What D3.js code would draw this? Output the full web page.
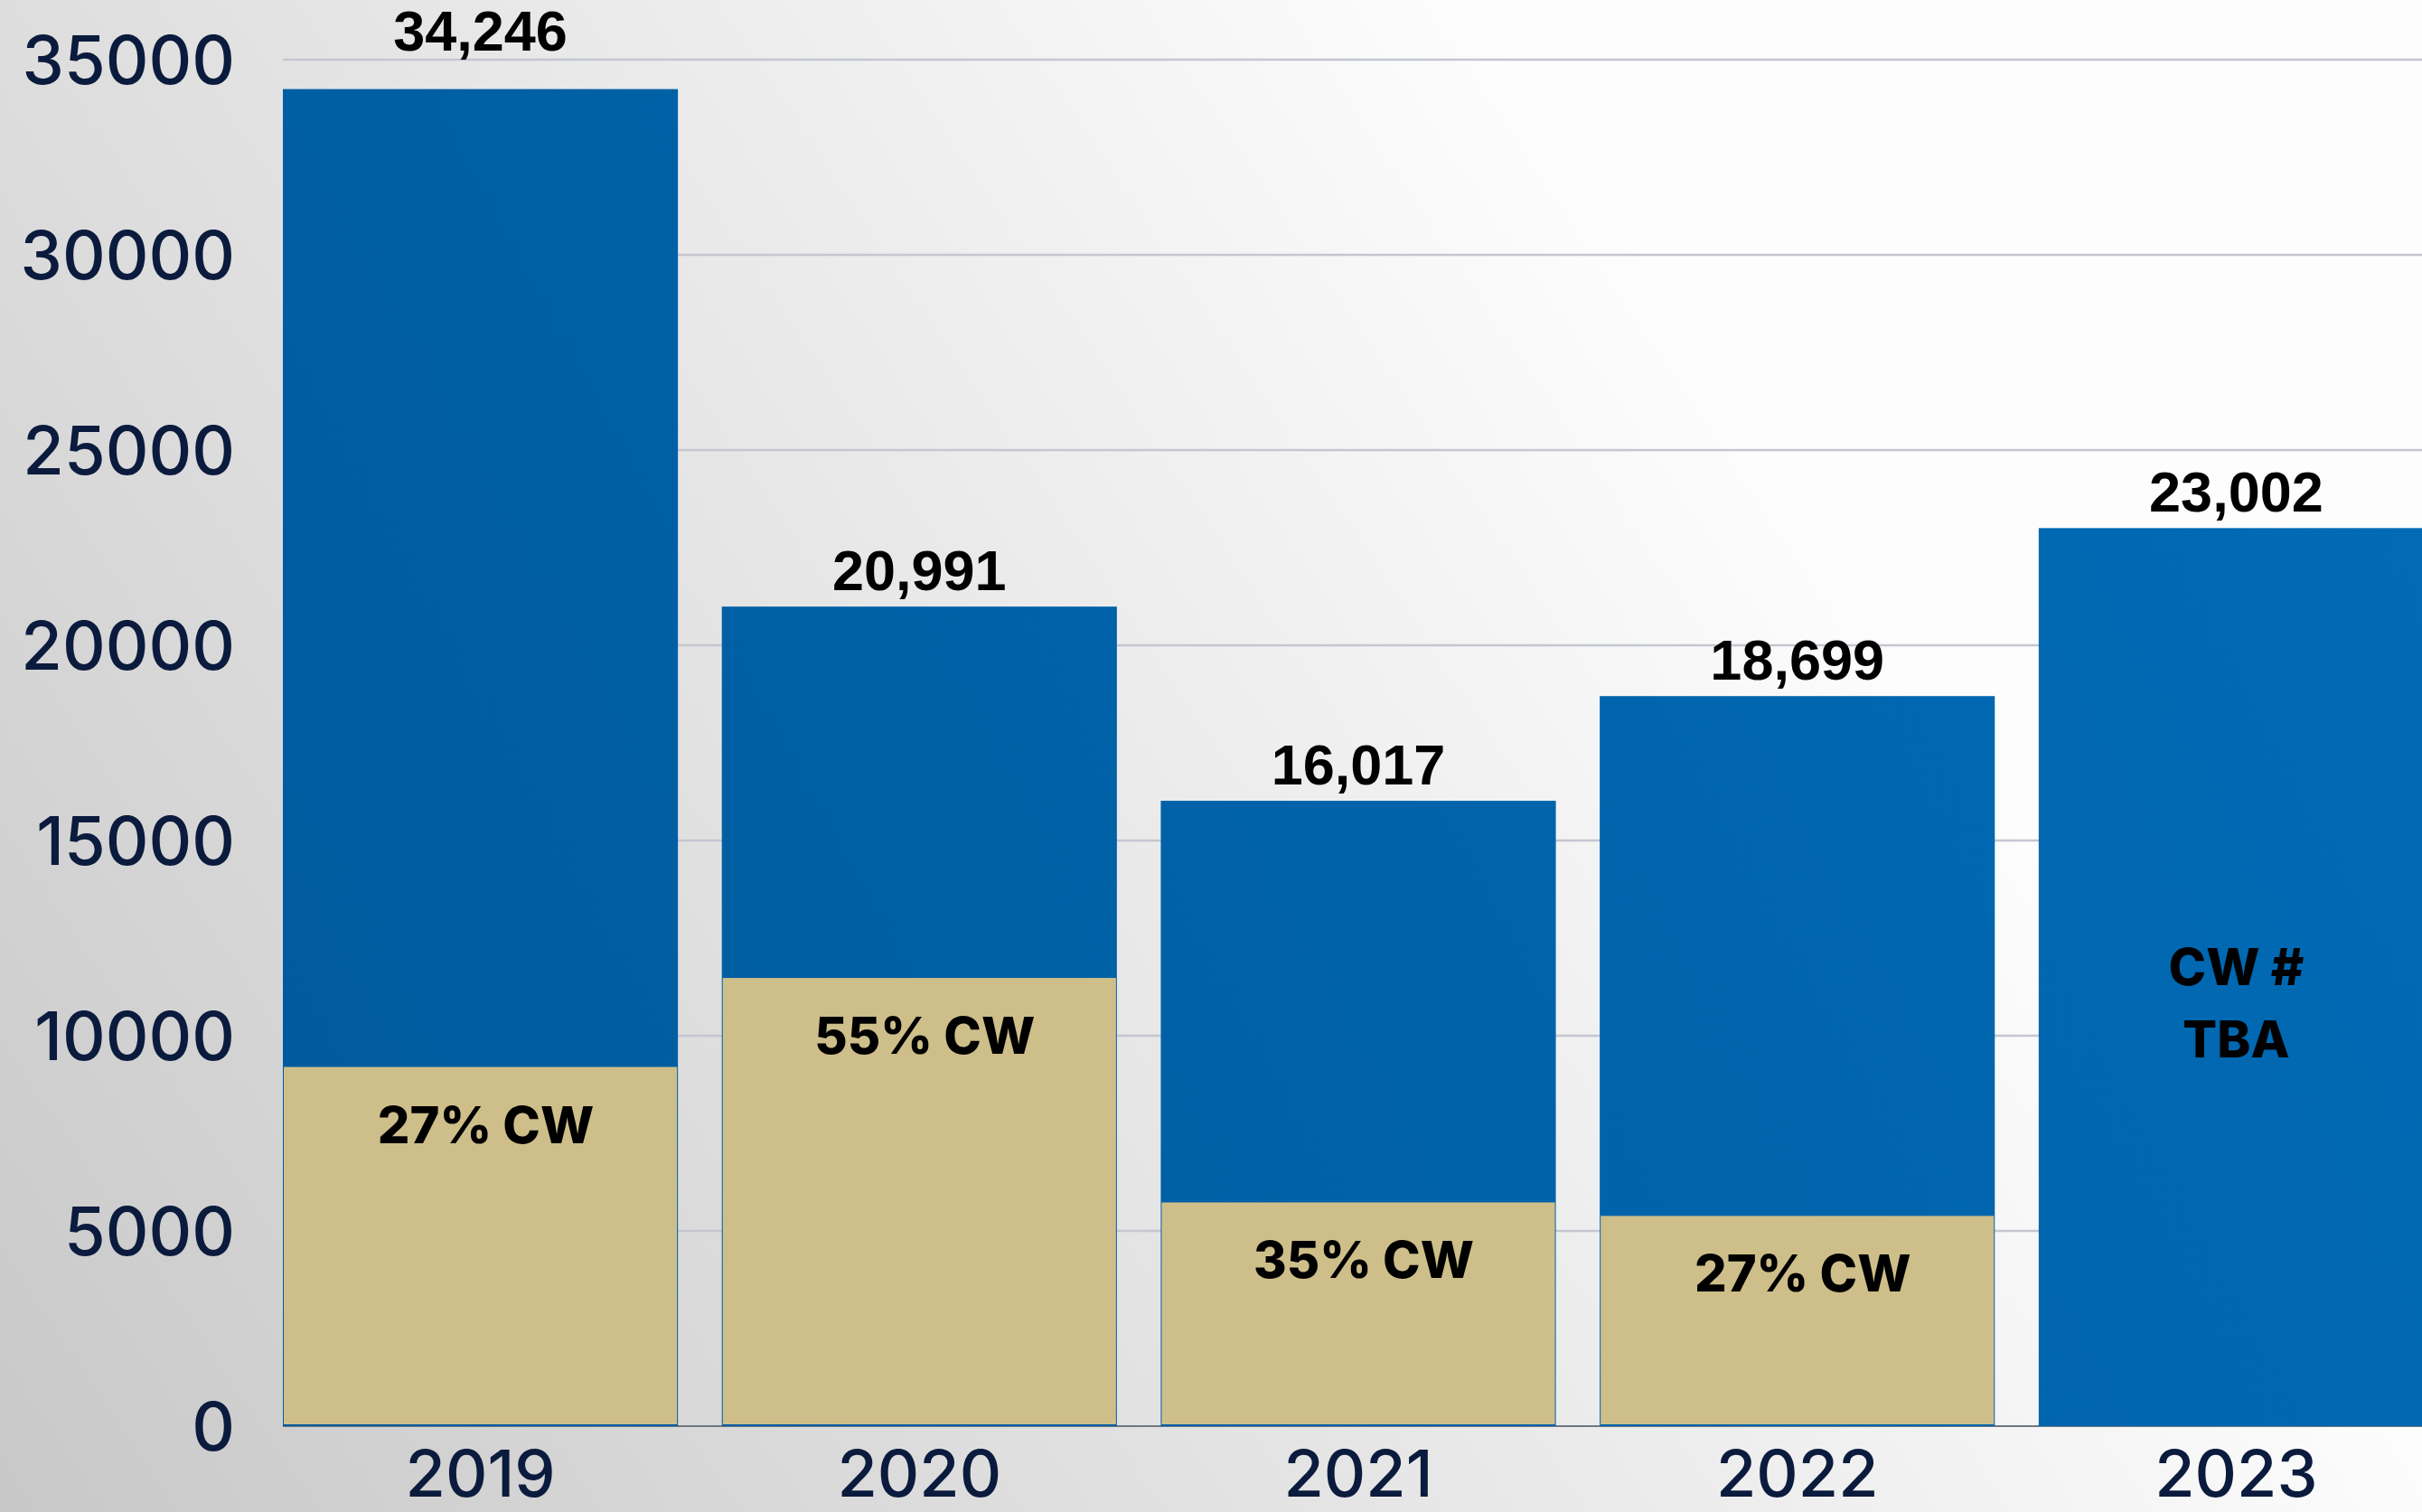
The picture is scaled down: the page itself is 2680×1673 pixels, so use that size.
<!DOCTYPE html>
<html lang="en">
  <head>
    <meta charset="UTF-8" />
    <title>cw-bars</title>
    <style>
      html, body { margin: 0; padding: 0; overflow: hidden; }
      .tick text { font-family: Inter, "Noto Sans", sans-serif; font-weight: 500; fill: #0b1b3d; }
      .val { font-family: "Liberation Sans", Arial, sans-serif; font-weight: 700; fill: #000; }
      .cwlabel { font-family: Inter, "Noto Sans", sans-serif; font-weight: 800; fill: #000; }
    </style>
  </head>
  <body>
    <svg width="2680" height="1673" id="svg"></svg>
    <script src="https://cdnjs.cloudflare.com/ajax/libs/d3/7.8.5/d3.min.js"></script>
    <script>
      // data
      const years = ["2019", "2020", "2021", "2022", "2023"];
      const totals = [34246, 20991, 16017, 18699, 23002];
      const cwValues = [9200, 11480, 5730, 5385, null];
      const cwLabels = ["27% CW", "55% CW", "35% CW", "27% CW", null];
      const tbaLines = ["CW #", "TBA"];
      const yTicks = [0, 5000, 10000, 15000, 20000, 25000, 30000, 35000];

      const svg = d3.select("#svg");
      const width = +svg.attr("width");
      const height = +svg.attr("height");
      const margin = { top: 66, left: 313, right: -13, bottom: 95 };

      // background
      const defs = svg.append("defs");
      const bg = defs.append("linearGradient").attr("id", "bg")
        .attr("gradientUnits", "userSpaceOnUse")
        .attr("x1", 0).attr("y1", height).attr("x2", 1900).attr("y2", 400);
      bg.append("stop").attr("offset", 0).attr("stop-color", "#c8c8c8");
      bg.append("stop").attr("offset", 1).attr("stop-color", "#fdfdfd");
      const blue = defs.append("linearGradient").attr("id", "blue")
        .attr("gradientUnits", "userSpaceOnUse")
        .attr("x1", 300).attr("y1", 1600).attr("x2", 2680).attr("y2", 300);
      blue.append("stop").attr("offset", 0).attr("stop-color", "#00599c");
      blue.append("stop").attr("offset", 1).attr("stop-color", "#016cb7");

      svg.append("rect").attr("width", width).attr("height", height).attr("fill", "url(#bg)");

      const x = d3.scaleBand()
        .domain(years)
        .range([margin.left, width - margin.right])
        .paddingInner(0.1)
        .paddingOuter(0);
      const y = d3.scaleLinear()
        .domain([0, 35000])
        .range([height - margin.bottom, margin.top]);

      // gridlines
      svg.append("g")
        .selectAll("line")
        .data(yTicks.slice(1))
        .join("line")
        .attr("x1", margin.left)
        .attr("x2", width)
        .attr("y1", (d) => y(d))
        .attr("y2", (d) => y(d))
        .attr("stroke", "#c4c7d1")
        .attr("stroke-width", 2.5);

      // baseline
      svg.append("line")
        .attr("x1", margin.left).attr("x2", width)
        .attr("y1", y(0)).attr("y2", y(0))
        .attr("stroke", "#6f7682").attr("stroke-width", 2);

      // y axis
      const yAxis = svg.append("g")
        .attr("transform", `translate(260,0)`)
        .call(d3.axisLeft(y).tickValues(yTicks).tickFormat(d3.format("d")).tickSize(0).tickPadding(0));
      yAxis.select(".domain").remove();
      yAxis.selectAll("text").attr("font-size", 74).attr("dy", "0.36em");

      // x axis
      const xAxis = svg.append("g")
        .attr("transform", `translate(0,${y(0)})`)
        .call(d3.axisBottom(x).tickSize(0).tickPadding(0));
      xAxis.select(".domain").remove();
      xAxis.selectAll("text").attr("font-size", 72).attr("y", 78).attr("dy", 0);

      const rows = years.map((yr, i) => ({
        year: yr, total: totals[i], cw: cwValues[i], label: cwLabels[i],
      }));

      const bars = svg.append("g");
      // full bar in blue
      bars.selectAll("rect.total")
        .data(rows)
        .join("rect")
        .attr("class", "total")
        .attr("x", (d) => x(d.year))
        .attr("width", x.bandwidth())
        .attr("y", (d) => y(d.total))
        .attr("height", (d) => y(0) - y(d.total))
        .attr("fill", "url(#blue)");

      // CW part in gold
      bars.selectAll("rect.gold")
        .data(rows.filter((d) => d.cw != null))
        .join("rect")
        .attr("class", "gold")
        .attr("x", (d) => x(d.year) + 1)
        .attr("width", x.bandwidth() - 2)
        .attr("y", (d) => y(d.cw))
        .attr("height", (d) => y(0) - y(d.cw) - 2)
        .attr("fill", "#cebf8a");

      // total value labels, moved above the top gridline when they would cross it
      const topLine = y(35000);
      function labelY(v) {
        let ly = y(v) - 18;
        if (ly > topLine - 10 && ly - 45 < topLine) ly = topLine - 10;
        return ly;
      }
      svg.append("g")
        .selectAll("text")
        .data(rows)
        .join("text")
        .attr("class", "val")
        .attr("font-size", 63)
        .attr("text-anchor", "middle")
        .attr("x", (d) => x(d.year) + x.bandwidth() / 2)
        .attr("y", (d) => labelY(d.total))
        .text((d) => d3.format(",")(d.total));

      // CW labels
      svg.append("g")
        .selectAll("text")
        .data(rows.filter((d) => d.label))
        .join("text")
        .attr("class", "cwlabel")
        .attr("font-size", 56)
        .attr("text-anchor", "middle")
        .attr("x", (d) => x(d.year) + x.bandwidth() / 2 + 6)
        .attr("y", (d) => y(d.cw) + 84)
        .text((d) => d.label);

      // 2023: CW not known yet
      const last = rows[rows.length - 1];
      svg.append("g")
        .selectAll("text")
        .data(tbaLines)
        .join("text")
        .attr("class", "cwlabel")
        .attr("font-size", 56)
        .attr("text-anchor", "middle")
        .attr("x", x(last.year) + x.bandwidth() / 2)
        .attr("y", (d, i) => y(last.total / 2) + 9 + i * 80)
        .text((d) => d);
    </script>
  </body>
</html>
